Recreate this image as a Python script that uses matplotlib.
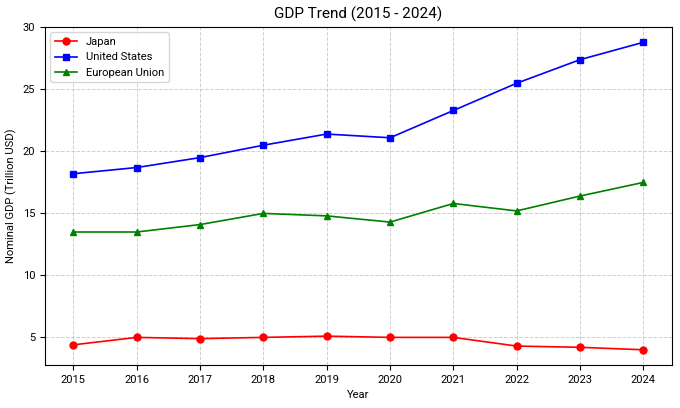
import matplotlib
matplotlib.use('Agg')
import matplotlib.pyplot as plt

plt.rcParams['font.family'] = ['Roboto', 'DejaVu Sans']

years = [2015, 2016, 2017, 2018, 2019, 2020, 2021, 2022, 2023, 2024]
japan = [4.4, 5.0, 4.9, 5.0, 5.1, 5.0, 5.0, 4.3, 4.2, 4.0]
usa = [18.2, 18.7, 19.5, 20.5, 21.4, 21.1, 23.3, 25.5, 27.4, 28.8]
eu = [13.5, 13.5, 14.1, 15.0, 14.8, 14.3, 15.8, 15.2, 16.4, 17.5]

fig, ax = plt.subplots(figsize=(6.8, 4.08), dpi=100)
ax.plot(years, japan, color='red', marker='o', markersize=5, linewidth=1.2, label='Japan')
ax.plot(years, usa, color='blue', marker='s', markersize=5, linewidth=1.2, label='United States')
ax.plot(years, eu, color='green', marker='^', markersize=5, linewidth=1.2, label='European Union')

ax.set_title('GDP Trend (2015 - 2024)', fontsize=11)
ax.set_xlabel('Year', fontsize=8)
ax.set_ylabel('Nominal GDP (Trillion USD)', fontsize=8)
ax.set_xticks(years)
ax.tick_params(labelsize=8)
ax.grid(True, linestyle='--', linewidth=0.7, alpha=0.6)
ax.legend(loc='upper left', fontsize=8)

fig.subplots_adjust(left=0.066, right=0.988, top=0.934, bottom=0.105)
fig.savefig('out.png')
